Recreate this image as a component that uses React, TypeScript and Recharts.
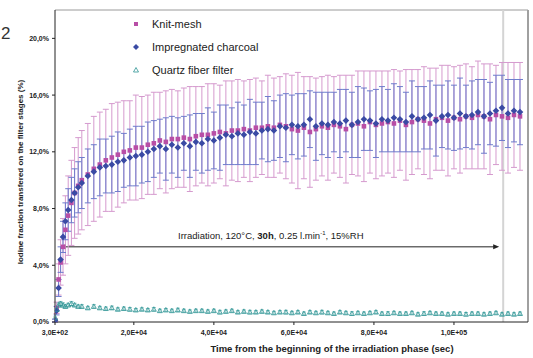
// Iodine transfer on the filter stages during irradiation, three filter types with error bars.
import { ScatterChart, Scatter, XAxis, YAxis, ErrorBar, ReferenceLine } from 'recharts';

const FONT = '"Liberation Sans", Arial, sans-serif';
const KNIT = '#b84ea6';
const KNIT_BAR = '#d59ace';
const CHAR = '#3a4aa4';
const CHAR_BAR = '#6e7ccc';
const QTZ = '#2e9494';
const QTZ_BAR = '#64b2b2';

const times = [
  300, 700, 1200, 1700, 2300, 2900, 3600, 4400, 5200, 6100, 7000,
  8500, 10000, 11500, 13000, 14500, 16000, 17500, 19000, 20500, 22000,
  23500, 25000, 26500, 28000, 29500, 31000, 32500, 34000, 35500, 37000,
  38500, 40000, 41500, 43000, 44500, 46000, 47500, 49000, 50500, 52000,
  53500, 55000, 56500, 58000, 59500, 61000, 62500, 64000, 65500, 67000,
  68500, 70000, 71500, 73000, 74500, 76000, 77500, 79000, 80500, 82000,
  83500, 85000, 86500, 88000, 89500, 91000, 92500, 94000, 95500, 97000,
  98500, 100000, 101500, 103000, 104500, 106000, 107500, 109000, 110500, 112000,
  113500, 115000, 116500,
];

const knitMesh = [
  0.1, 1.0, 3.0, 4.2, 5.3, 6.5, 7.5, 8.4, 9.1, 9.6, 10.0,
  10.4, 10.8, 11.1, 11.4, 11.6, 11.8, 12.0, 12.1, 12.3, 12.3,
  12.5, 12.6, 12.8, 12.7, 12.9, 12.9, 13.0, 12.9, 13.1, 13.2,
  13.2, 13.3, 13.4, 13.3, 13.5, 13.5, 13.6, 13.5, 13.7, 13.7,
  13.8, 13.7, 13.9, 13.8, 13.6, 13.5, 13.7, 13.4, 13.6, 13.8,
  13.7, 13.9, 13.8, 13.6, 13.9, 14.0, 13.8, 14.1, 13.9, 14.0,
  14.1, 14.0, 14.2, 13.9, 14.1, 14.3, 14.2, 14.0, 14.3, 14.4,
  14.2, 14.4, 14.3, 14.5, 14.4, 14.6, 14.5, 14.3, 14.6, 14.5,
  14.4, 14.6, 14.5,
];

const knitErr = [
  0.1, 0.4, 1.1, 1.6, 2.0, 2.4, 2.8, 3.0, 3.2, 3.4, 3.5,
  3.6, 3.7, 3.7, 3.6, 3.8, 3.7, 3.6, 3.5, 3.7, 3.6,
  3.5, 3.6, 3.4, 3.6, 3.5, 3.4, 3.5, 3.7, 3.5, 3.4,
  3.6, 3.5, 3.3, 3.7, 3.5, 3.6, 3.4, 3.6, 3.5, 3.3,
  3.6, 3.5, 3.4, 3.7, 3.8, 4.1, 3.6, 3.9, 3.6, 3.5,
  3.7, 3.4, 3.6, 3.8, 3.5, 3.7, 3.9, 3.6, 3.8, 3.7,
  3.6, 3.8, 3.5, 3.9, 3.7, 3.5, 3.8, 3.9, 3.6, 3.7,
  3.9, 3.6, 3.8, 3.7, 3.6, 3.8, 3.7, 3.9, 3.5, 3.8,
  3.9, 3.7, 3.8,
];

const charcoal = [
  0.1, 0.8, 2.4, 4.4, 6.0, 7.1, 7.9, 8.6, 9.1, 9.5, 9.8,
  10.3, 10.6, 10.9, 11.0, 11.1, 11.3, 11.4, 11.6, 11.7, 11.8,
  12.0, 12.2, 12.4, 12.2, 12.5, 12.3, 12.6, 12.4, 12.7, 12.6,
  12.9, 12.8, 13.0, 13.2, 13.1, 13.3, 13.2, 13.4, 13.3, 13.5,
  13.6, 13.5, 13.8, 13.7, 13.9, 13.8, 13.9, 14.3, 13.8, 14.0,
  13.9, 14.1, 14.0, 14.2, 13.9, 14.1, 14.3, 14.2, 14.0, 14.3,
  14.2, 14.4, 14.3, 14.1, 14.5, 14.3, 14.4, 14.6, 14.2, 14.5,
  14.6, 14.4, 14.7, 14.5, 14.6, 14.8, 14.5, 14.7, 14.9, 15.1,
  14.7, 14.9, 14.8,
];

const charcoalErr = [
  0.1, 0.3, 0.6, 0.9, 1.1, 1.3, 1.5, 1.6, 1.7, 1.8, 1.8,
  1.9, 1.9, 2.0, 1.9, 2.0, 2.1, 1.9, 2.0, 2.1, 2.0,
  2.1, 2.0, 1.9, 2.2, 2.0, 2.1, 1.9, 2.2, 2.0, 2.1,
  2.2, 2.0, 2.3, 2.1, 2.0, 2.2, 2.1, 2.3, 2.2, 2.0,
  2.3, 2.1, 2.2, 2.4, 2.1, 2.3, 2.2, 2.0, 2.4, 2.2,
  2.3, 2.1, 2.4, 2.2, 2.3, 2.5, 2.2, 2.1, 2.4, 2.3,
  2.2, 2.4, 2.3, 2.1, 2.5, 2.3, 2.2, 2.4, 2.5, 2.2,
  2.4, 2.3, 2.5, 2.2, 2.4, 2.3, 2.6, 2.2, 2.5, 2.3,
  2.4, 2.2, 2.3,
];

const quartz = [
  0.3, 0.9, 1.2, 1.3, 1.2, 1.1, 1.2, 1.3, 1.2, 1.1, 1.1,
  1.0, 1.1, 1.0, 0.95, 1.0, 0.9, 0.95, 0.9, 0.85, 0.9,
  0.85, 0.9, 0.8, 0.85, 0.8, 0.85, 0.8, 0.75, 0.8, 0.8,
  0.75, 0.8, 0.7, 0.75, 0.8, 0.7, 0.75, 0.7, 0.7, 0.75,
  0.7, 0.65, 0.7, 0.7, 0.65, 0.7, 0.6, 0.7, 0.65, 0.7,
  0.65, 0.6, 0.7, 0.65, 0.6, 0.65, 0.6, 0.65, 0.7, 0.6,
  0.6, 0.65, 0.6, 0.6, 0.65, 0.55, 0.6, 0.65, 0.6, 0.6,
  0.55, 0.6, 0.6, 0.55, 0.6, 0.6, 0.55, 0.6, 0.65, 0.55,
  0.6, 0.55, 0.6,
];

const quartzErr = [
  0.05, 0.1, 0.15, 0.15, 0.15, 0.12, 0.12, 0.15, 0.12, 0.1, 0.12,
  0.1, 0.12, 0.1, 0.1, 0.12, 0.1, 0.1, 0.12, 0.1, 0.1,
  0.1, 0.12, 0.1, 0.1, 0.1, 0.12, 0.1, 0.1, 0.1, 0.1,
  0.1, 0.1, 0.12, 0.1, 0.1, 0.1, 0.1, 0.12, 0.1, 0.1,
  0.1, 0.1, 0.1, 0.12, 0.1, 0.1, 0.1, 0.1, 0.1, 0.12,
  0.1, 0.1, 0.1, 0.1, 0.12, 0.1, 0.1, 0.1, 0.1, 0.1,
  0.12, 0.1, 0.1, 0.1, 0.1, 0.1, 0.12, 0.1, 0.1, 0.1,
  0.1, 0.1, 0.1, 0.12, 0.1, 0.1, 0.1, 0.1, 0.1, 0.1,
  0.1, 0.1, 0.1,
];

const xTicks = [300, 20000, 40000, 60000, 80000, 100000];
const yTicks = [0, 4, 8, 12, 16, 20];

const knitData = times.map((t, i) => ({ t, v: knitMesh[i], e: knitErr[i] }));
const charData = times.map((t, i) => ({ t, v: charcoal[i], e: charcoalErr[i] }));
const qtzData = times.map((t, i) => ({ t, v: quartz[i], e: quartzErr[i] }));

const fmtX = (v: number) => {
  const [m, ex] = v.toExponential(1).split('e');
  const n = Number(ex);
  return `${m.replace('.', ',')}E${n < 0 ? '-' : '+'}${String(Math.abs(n)).padStart(2, '0')}`;
};
const fmtY = (v: number) => `${v.toFixed(1).replace('.', ',')}%`;

const Blank = () => <g />;
const Square = (p: any) => <rect x={p.cx - 2.3} y={p.cy - 2.3} width={4.6} height={4.6} fill={KNIT} />;
const Diamond = (p: any) => (
  <polygon
    points={`${p.cx},${p.cy - 3.3} ${p.cx + 3.3},${p.cy} ${p.cx},${p.cy + 3.3} ${p.cx - 3.3},${p.cy}`}
    fill={CHAR}
  />
);
const Triangle = (p: any) => (
  <polygon
    points={`${p.cx},${p.cy - 2.5} ${p.cx + 2.5},${p.cy + 2} ${p.cx - 2.5},${p.cy + 2}`}
    fill="none"
    stroke={QTZ}
    strokeWidth={0.8}
  />
);

const Arrow = (p: any) => {
  const { x1, y1, x2, y2 } = p;
  return (
    <g>
      <line x1={x1 + 4} y1={y1} x2={x2 - 4} y2={y2} stroke="#222" strokeWidth={1} />
      <polygon points={`${x1},${y1} ${x1 + 6},${y1 - 2.5} ${x1 + 6},${y1 + 2.5}`} fill="#222" />
      <polygon points={`${x2},${y2} ${x2 - 6},${y2 - 2.5} ${x2 - 6},${y2 + 2.5}`} fill="#222" />
    </g>
  );
};

const tickStyle = { fontSize: 7, fontWeight: 'bold' as const, fill: '#222', fontFamily: FONT };

export default function App() {
  return (
    <div style={{ position: 'relative', width: 533, height: 358, background: '#fff' }}>
      <style>{'body{margin:0}'}</style>
      <ScatterChart width={533} height={358} margin={{ top: 10, right: 5, left: 0, bottom: 0 }}>
        <XAxis
          type="number"
          dataKey="t"
          domain={[300, 118500]}
          ticks={xTicks}
          tickFormatter={fmtX}
          tick={tickStyle}
          tickSize={3}
          tickMargin={5}
          height={36}
          stroke="#222"
          allowDataOverflow
        />
        <YAxis
          type="number"
          dataKey="v"
          domain={[0, 22]}
          ticks={yTicks}
          tickFormatter={fmtY}
          tick={tickStyle}
          tickSize={3}
          tickMargin={3}
          width={55}
          stroke="#222"
          allowDataOverflow
        />
        <ReferenceLine y={22} stroke="#9a9a9a" strokeWidth={1} ifOverflow="visible" />
        <ReferenceLine x={118500} stroke="#a0a0a0" strokeWidth={2} ifOverflow="visible" />
        <ReferenceLine x={112300} stroke="#d4d4d4" strokeWidth={2} />
        <ReferenceLine
          segment={[{ x: 1500, y: 5.3 }, { x: 111300, y: 5.3 }]}
          shape={Arrow}
        />

        <Scatter data={knitData} shape={Blank} isAnimationActive={false}>
          <ErrorBar dataKey="e" direction="y" width={3} stroke={KNIT_BAR} strokeWidth={1} />
        </Scatter>
        <Scatter data={charData} shape={Blank} isAnimationActive={false}>
          <ErrorBar dataKey="e" direction="y" width={3} stroke={CHAR_BAR} strokeWidth={1} />
        </Scatter>
        <Scatter data={qtzData} shape={Blank} isAnimationActive={false}>
          <ErrorBar dataKey="e" direction="y" width={2} stroke={QTZ_BAR} strokeWidth={0.8} />
        </Scatter>
        <Scatter data={knitData} shape={Square} isAnimationActive={false} />
        <Scatter data={charData} shape={Diamond} isAnimationActive={false} />
        <Scatter data={qtzData} shape={Triangle} isAnimationActive={false} />
      </ScatterChart>

      <svg
        width={533}
        height={358}
        style={{ position: 'absolute', left: 0, top: 0, pointerEvents: 'none' }}
        fontFamily={FONT}
      >
        <text x={1} y={39} fontSize={17} fill="#333">2</text>

        <rect x={134} y={22} width={4} height={4} fill={KNIT} />
        <text x={152} y={28} fontSize={11} fill="#222">Knit-mesh</text>
        <polygon points="136,44 139,47 136,50 133,47" fill={CHAR} />
        <text x={152} y={51} fontSize={11} fill="#222">Impregnated charcoal</text>
        <polygon points="136,67.5 138.5,72 133.5,72" fill="none" stroke={QTZ} strokeWidth={0.8} />
        <text x={152} y={74} fontSize={11} fill="#222">Quartz fiber filter</text>

        <text x={178} y={239} fontSize={9.5} fill="#222">
          Irradiation, 120°C, <tspan fontWeight="bold">30h</tspan>, 0.25 l.min
          <tspan fontSize={6} dy={-4}>-1</tspan>
          <tspan dy={4}>, 15%RH</tspan>
        </text>

        <text
          x={0}
          y={0}
          transform="translate(23,172) rotate(-90)"
          textAnchor="middle"
          fontSize={8}
          fontWeight="bold"
          fill="#222"
        >
          Iodine fraction transfered on the filter stages (%)
        </text>
        <text x={332} y={352} textAnchor="middle" fontSize={9.5} fontWeight="bold" fill="#222">
          Time from the beginning of the irradiation phase (sec)
        </text>
      </svg>
    </div>
  );
}
